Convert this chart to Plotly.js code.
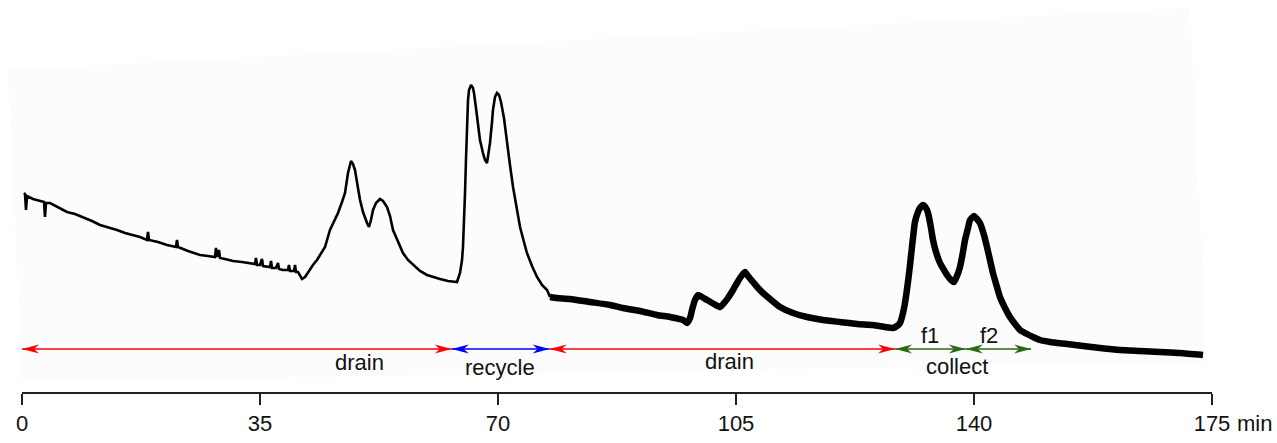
<!DOCTYPE html>
<html><head><meta charset="utf-8">
<script src="https://cdn.plot.ly/plotly-3.0.1.min.js"></script>
<style>html,body{margin:0;padding:0;background:#fff;overflow:hidden}#chart{width:1277px;height:443px}</style>
</head><body><div id="chart"></div>
<script>
// ---- data (time in min, detector signal in arbitrary units) ----
const timeMin = [0.29,0.44,0.59,0.74,1.62,2.65,3.24,3.38,3.53,4.12,5.29,6.62,7.79,8.97,10.29,11.47,12.65,13.97,15.15,16.32,17.35,18.38,18.53,18.68,20.00,21.32,22.65,22.79,22.94,24.41,26.18,27.35,28.38,28.53,28.68,28.97,29.12,29.85,31.03,32.35,33.53,34.26,34.41,34.56,35.00,35.29,35.44,36.03,36.47,36.62,36.76,37.35,37.65,37.79,38.38,39.12,39.26,39.41,40.00,40.15,40.29,40.59,41.18,41.62,42.06,42.79,43.38,43.97,44.56,45.29,45.88,46.47,47.06,47.50,47.94,48.38,48.68,48.97,49.41,49.71,50.15,50.44,50.74,51.03,51.32,51.62,52.06,52.65,53.09,53.68,54.12,54.56,55.29,56.03,56.76,57.50,58.53,59.56,60.44,61.47,62.65,63.97,64.41,64.71,64.85,65.00,65.15,65.29,65.44,65.59,65.74,66.03,66.32,66.47,66.76,67.06,67.35,67.79,68.09,68.38,68.68,68.82,69.12,69.26,69.56,69.85,70.15,70.44,70.88,71.32,71.76,72.21,72.79,73.24,73.82,74.26,75.00,75.74,76.47,77.21,77.65,78.68,80.59,83.53,86.47,88.38,90.88,93.38,95.29,97.21,97.79,98.24,98.53,98.97,99.41,100.00,100.74,101.76,102.65,103.24,103.82,104.56,105.15,105.59,106.03,106.32,106.76,107.50,108.24,108.97,110.00,111.47,113.38,115.44,117.79,120.29,122.79,125.15,126.91,128.09,128.68,129.12,129.56,129.85,130.29,130.59,130.88,131.32,131.76,132.06,132.50,132.94,133.24,133.68,133.97,134.41,135.00,135.59,136.03,136.62,137.06,137.50,137.94,138.38,138.68,139.12,139.41,140.00,140.44,140.88,141.47,141.91,142.35,142.79,143.38,143.82,144.56,145.29,146.03,146.76,147.79,148.68,149.71,151.18,153.68,156.03,158.53,161.47,164.41,167.35,170.29,173.68];
const signal = [199,198,182,196,193,191,190,175,189,189,185,180,178,175,171,167,165,162,159,157,155,152,160,152,150,147,145,152,145,141,137,136,135,144,135,142,134,133,131,130,129,128,134,127,127,133,126,125,125,131,124,124,129,123,122,122,127,121,121,127,120,120,113,115,120,127,132,139,145,162,170,179,190,199,219,231,228,222,204,192,180,174,169,165,172,182,189,193,191,185,176,162,150,139,132,127,121,117,115,113,111,110,119,132,145,167,199,232,265,292,302,307,304,299,284,265,252,239,232,229,240,249,270,282,295,299,297,290,274,249,227,205,184,165,150,139,126,115,107,102,95,94,93,90,87,84,81,77,75,72,69,74,82,92,97,95,92,88,85,89,94,102,109,114,118,120,116,110,104,99,93,85,79,75,72,70,68,67,65,64,66,69,79,89,110,127,145,170,180,184,187,184,179,164,152,140,129,122,117,112,110,116,125,140,152,164,172,176,173,169,157,145,132,119,105,95,84,75,68,62,58,55,52,50,48,46,44,42,41,40,39,37];
const noisyFrom = 77.65;              // from here on the recorded trace is a thick noisy band

const tickVals = [0, 35, 70, 105, 140, 175];
const tickText = ['0', '35', '70', '105', '140', '175'];
const axisUnit = 'min';

const phaseStart = [0, 63.2, 77.6, 128.4, 138.8];
const phaseEnd   = [63.2, 77.6, 128.4, 138.8, 148.4];
const phaseLevel = 43;

const labelText = ['drain', 'recycle', 'drain', 'f1', 'f2', 'collect'];
const labelTime = [49.7, 70.3, 104.1, 133.5, 142.2, 137.5];
const labelLevel = [30, 25, 31, 57, 57, 26];

// ---- styles ----
const phaseColor = ['#ff0000', '#0000ff', '#ff0000', '#2c6a12', '#2c6a12'];
const FONT = 'Liberation Sans, Arial, Helvetica, sans-serif';

const cleanX = [], cleanY = [], noisyX = [], noisyY = [];
timeMin.forEach((t, i) => {
  if (t <= noisyFrom) { cleanX.push(t); cleanY.push(signal[i]); }
  if (t >= noisyFrom) { noisyX.push(t); noisyY.push(signal[i]); }
});

const traces = [
  {x: cleanX, y: cleanY, type: 'scatter', mode: 'lines', line: {color: '#000', width: 2.6}, hoverinfo: 'skip'},
  {x: noisyX, y: noisyY, type: 'scatter', mode: 'lines', line: {color: '#000', width: 6.5, shape: 'spline', smoothing: 0.5}, hoverinfo: 'skip'}
];

const shapes = [
  {type: 'path', xref: 'paper', yref: 'paper', layer: 'below',
   path: 'M-0.0118,0.821 L0.9815,0.980 L0.9958,0.0765 L0,0.0255 Z',
   fillcolor: '#fcfcfc', line: {width: 0}}
];
const headLeft = 'M0,0 L17,4.5 L12,0 L17,-4.5 Z';
const headRight = 'M0,0 L-17,4.5 L-12,0 L-17,-4.5 Z';
phaseStart.forEach((s, i) => {
  const e = phaseEnd[i], c = phaseColor[i];
  shapes.push({type: 'line', xref: 'x', yref: 'y', x0: s, x1: e, y0: phaseLevel, y1: phaseLevel,
               line: {color: c, width: 1.6}});
  shapes.push({type: 'path', xref: 'x', yref: 'y', xsizemode: 'pixel', ysizemode: 'pixel',
               xanchor: s, yanchor: phaseLevel, path: headLeft, fillcolor: c, line: {width: 0}});
  shapes.push({type: 'path', xref: 'x', yref: 'y', xsizemode: 'pixel', ysizemode: 'pixel',
               xanchor: e, yanchor: phaseLevel, path: headRight, fillcolor: c, line: {width: 0}});
});

const annotations = labelText.map((txt, i) => ({
  x: labelTime[i], y: labelLevel[i], xref: 'x', yref: 'y', text: txt, showarrow: false,
  font: {family: FONT, size: 22, color: '#111'}, xanchor: 'center', yanchor: 'middle'
}));
annotations.push({x: tickVals[tickVals.length - 1], y: 0, xref: 'x', yref: 'paper', text: axisUnit,
  showarrow: false, xanchor: 'left', yanchor: 'top', xshift: 23, yshift: -17,
  font: {family: FONT, size: 22, color: '#111'}});

const layout = {
  width: 1277, height: 443,
  margin: {l: 22, r: 65, t: 0, b: 51, pad: 0},
  paper_bgcolor: '#fff', plot_bgcolor: 'rgba(0,0,0,0)',
  showlegend: false,
  xaxis: {range: [0, 175], showgrid: false, zeroline: false, showline: true,
          linecolor: '#222', linewidth: 1.8, ticks: 'outside', ticklen: 11, tickwidth: 1.5,
          tickcolor: '#222', tickvals: tickVals, ticktext: tickText,
          tickfont: {family: FONT, size: 22, color: '#111'}, fixedrange: true},
  yaxis: {range: [0, 392], visible: false, fixedrange: true},
  shapes: shapes,
  annotations: annotations
};

Plotly.newPlot('chart', traces, layout, {staticPlot: true, displayModeBar: false});
</script></body></html>
